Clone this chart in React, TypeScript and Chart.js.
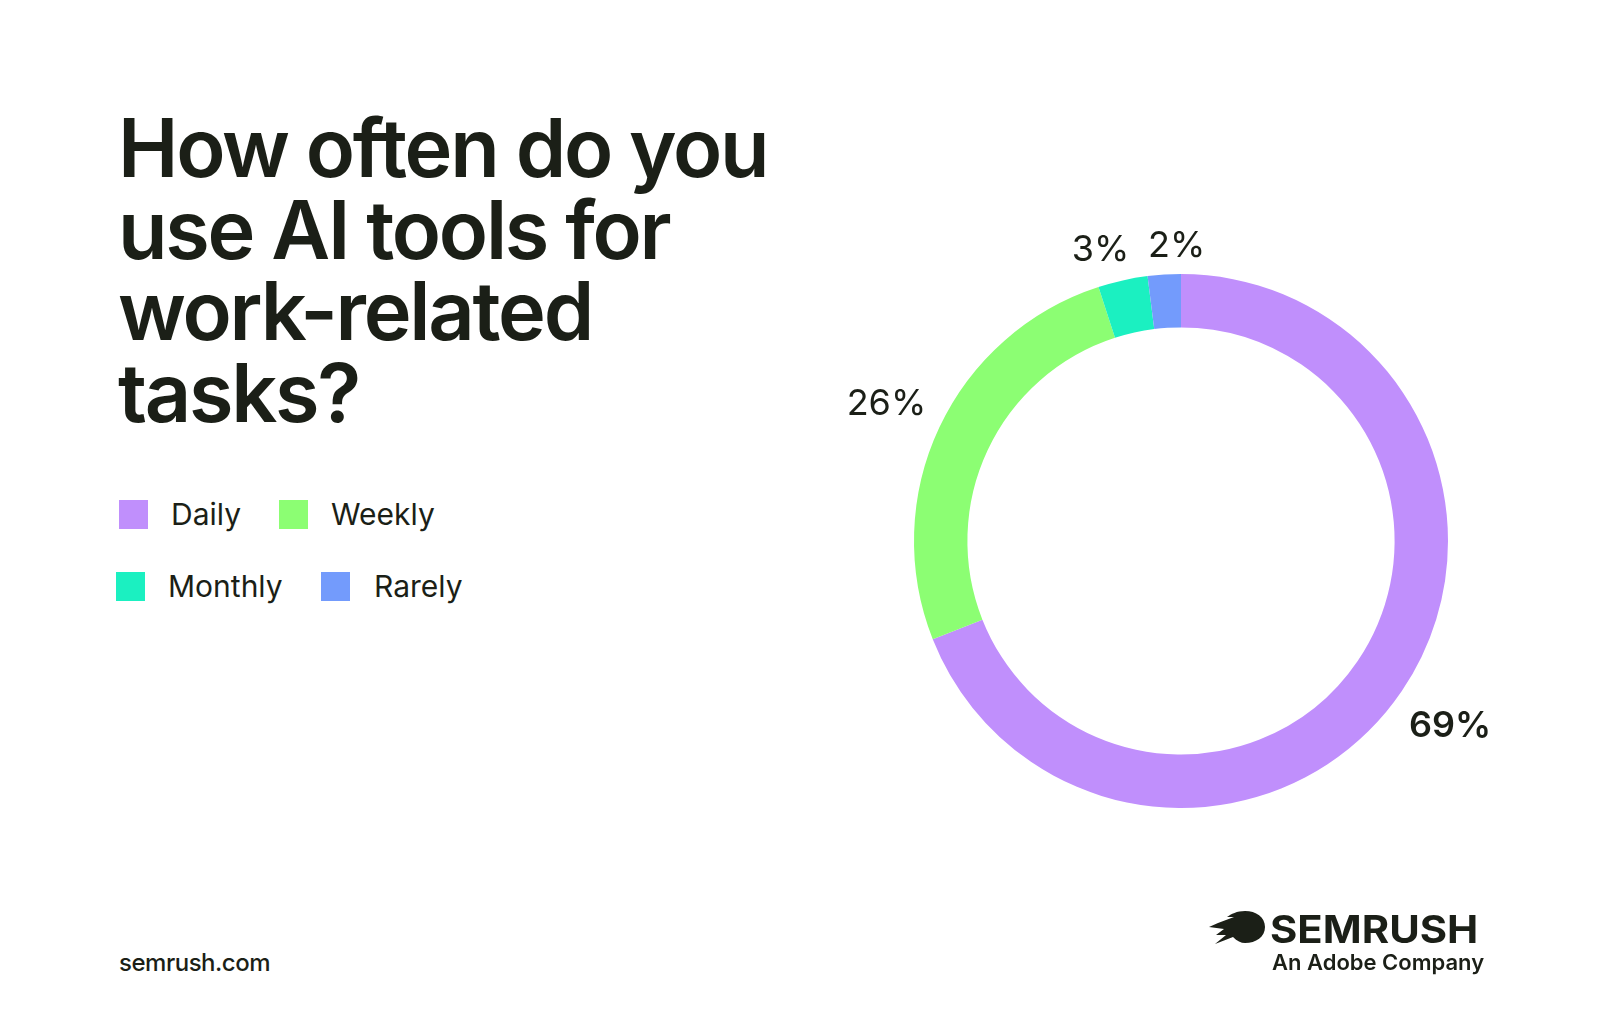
import React, { useEffect, useRef } from "react";
import { Chart, registerables } from "chart.js";

Chart.register(...registerables);

const categories = ["Daily", "Weekly", "Monthly", "Rarely"];
const shares = [69, 26, 3, 2];
const sliceLabels = ["69%", "26%", "3%", "2%"];
const colors = ["#C08FFC", "#8CFE73", "#1BF0C1", "#739BFC"];
const titleLines = ["How often do you", "use AI tools for", "work-related", "tasks?"];

const INK = "#1B1F17";
const FONT = "Inter, 'Noto Sans', sans-serif";

const outsideLabels = {
  id: "outsideLabels",
  afterDatasetsDraw(chart: any) {
    const ctx = chart.ctx;
    const meta = chart.getDatasetMeta(0);
    const fs = 36;
    const hh = fs * 0.36;
    const items = meta.data.map((arc: any, i: number) => {
      const p = arc.getProps(["x", "y", "startAngle", "endAngle", "outerRadius"], true);
      ctx.save();
      ctx.font = `${i === 0 ? 600 : 400} ${fs}px ${FONT}`;
      const w = ctx.measureText(sliceLabels[i]).width;
      ctx.restore();
      return { ...p, ang: (p.startAngle + p.endAngle) / 2, hw: w / 2, i };
    });
    const place = (it: any) => {
      const c = Math.cos(it.ang);
      const s = Math.sin(it.ang);
      const d = it.outerRadius + 17 + it.hw * Math.abs(c) + it.hh * Math.abs(s);
      it.cx = it.x + c * d;
      it.cy = it.y + s * d;
    };
    items.forEach((it: any) => {
      it.hh = hh;
      place(it);
    });
    const gap = 18;
    for (let k = 0; k < items.length - 1; k++) {
      const a = items[k];
      const b = items[k + 1];
      let guard = 0;
      const overlaps = () => {
        const ox = Math.abs(a.cx - b.cx) < a.hw + b.hw + gap;
        const oy = Math.abs(a.cy - b.cy) < a.hh + b.hh + 4;
        return ox && oy;
      };
      while (overlaps() && guard < 500) {
        a.ang -= 0.002;
        b.ang += 0.002;
        place(a);
        place(b);
        guard++;
      }
    }
    items.forEach((it: any) => {
      ctx.save();
      ctx.font = `${it.i === 0 ? 600 : 400} ${fs}px ${FONT}`;
      ctx.fillStyle = INK;
      ctx.textAlign = "center";
      ctx.textBaseline = "alphabetic";
      ctx.fillText(sliceLabels[it.i], it.cx, it.cy + hh);
      ctx.restore();
    });
  },
};

export default function App() {
  const ref = useRef<HTMLCanvasElement | null>(null);
  useEffect(() => {
    if (!ref.current) return;
    const chart = new Chart(ref.current, {
      type: "doughnut",
      data: {
        labels: categories,
        datasets: [
          {
            data: shares,
            backgroundColor: colors,
            borderWidth: 0,
            hoverOffset: 0,
          },
        ],
      },
      options: {
        animation: false,
        responsive: false,
        cutout: "80%",
        layout: { padding: 113 },
        plugins: { legend: { display: false }, tooltip: { enabled: false } },
        events: [],
      },
      plugins: [outsideLabels],
    });
    return () => chart.destroy();
  }, []);

  const legendPos = [
    { sx: 119, sy: 500, tx: 171 },
    { sx: 279, sy: 500, tx: 331 },
    { sx: 116, sy: 572, tx: 168 },
    { sx: 321, sy: 572, tx: 374 },
  ];

  return (
    <div
      style={{
        position: "absolute",
        left: 0,
        top: 0,
        width: 1600,
        height: 1015,
        background: "#FFFFFF",
        overflow: "hidden",
        fontFamily: FONT,
        color: INK,
      }}
    >
      <div
        style={{
          position: "absolute",
          left: 118,
          top: 108,
          fontSize: 81,
          fontWeight: 600,
          lineHeight: "81.5px",
          letterSpacing: "-0.028em",
          whiteSpace: "nowrap",
        }}
      >
        {titleLines.map((l, i) => (
          <div key={i}>{l}</div>
        ))}
      </div>

      {categories.map((c, i) => (
        <React.Fragment key={c}>
          <div
            style={{
              position: "absolute",
              left: legendPos[i].sx,
              top: legendPos[i].sy,
              width: 29,
              height: 29,
              background: colors[i],
            }}
          />
          <div
            style={{
              position: "absolute",
              left: legendPos[i].tx,
              top: legendPos[i].sy - 4,
              fontSize: 30,
              lineHeight: "36px",
              fontWeight: 400,
              letterSpacing: "0em",
              whiteSpace: "nowrap",
            }}
          >
            {c}
          </div>
        </React.Fragment>
      ))}

      <canvas
        ref={ref}
        width={760}
        height={760}
        style={{ position: "absolute", left: 801, top: 161, width: 760, height: 760 }}
      />

      <div
        style={{
          position: "absolute",
          left: 119,
          top: 948,
          fontSize: 24,
          lineHeight: "30px",
          fontWeight: 500,
          letterSpacing: "-0.02em",
        }}
      >
        semrush.com
      </div>

      <svg
        style={{ position: "absolute", left: 1209, top: 911 }}
        width={57}
        height={34}
        viewBox="0 0 57 34"
      >
        <path
          d="M56 16 C56 6 47 0 36 0 C28 0 22 3 18 6 L25 6 L9 12 L0 16 L15 18 L7 24 L17 24 L6 33 L24 26 C28 30 32 32 36 32 C47 32 56 26 56 16 Z"
          fill={INK}
        />
      </svg>
      <div
        style={{
          position: "absolute",
          left: 1270,
          top: 906,
          fontSize: 38,
          lineHeight: "46px",
          fontWeight: 700,
          letterSpacing: "0em",
          transform: "scaleX(1.1)",
          transformOrigin: "left center",
          whiteSpace: "nowrap",
        }}
      >
        SEMRUSH
      </div>
      <div
        style={{
          position: "absolute",
          left: 1272,
          top: 948,
          fontSize: 22,
          lineHeight: "28px",
          fontWeight: 600,
          letterSpacing: "0em",
          whiteSpace: "nowrap",
        }}
      >
        An Adobe Company
      </div>
    </div>
  );
}
